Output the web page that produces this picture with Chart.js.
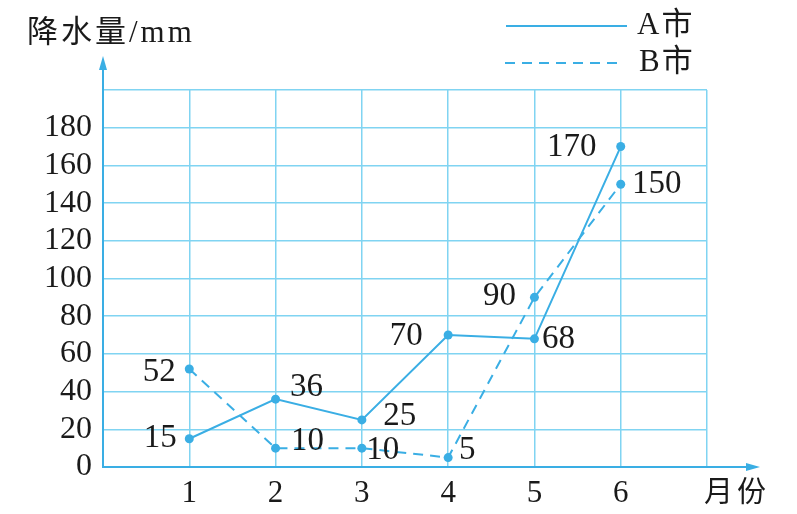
<!DOCTYPE html>
<html>
<head>
<meta charset="utf-8">
<script src="https://cdn.jsdelivr.net/npm/chart.js@4"></script>
<style>
  html, body { margin: 0; padding: 0; background: #fff; }
  canvas { display: block; }
</style>
</head>
<body>
<canvas id="rainChart" width="797" height="514"></canvas>
<script>
// months on the x axis
const months = [1, 2, 3, 4, 5, 6];
// rainfall (mm)
const cityA = [15, 36, 25, 70, 68, 170];
const cityB = [52, 10, 10, 5, 90, 150];
const seriesNames = ['A市', 'B市'];
const yTicks = [0, 20, 40, 60, 80, 100, 120, 140, 160, 180];

const lineColor = '#3aaee4';
const gridColor = '#80d4f2';
const textFont = '"Liberation Serif", "Noto Sans CJK SC", serif';

// where each value label sits relative to its point
const labelOffsetsA = [[-29, 0], [31, -12], [38, -4], [-42, 1], [24, 1], [-49, 1]];
const labelOffsetsB = [[-30, 3], [32, -7], [21, 2], [19, -7], [-35, -1], [36, 0]];

const ctx = document.getElementById('rainChart').getContext('2d');

// axis arrows, title, legend, value labels
const decorPlugin = {
    id: 'decor',
    afterDatasetsDraw(chart) {
        const c = chart.ctx;
        const area = chart.chartArea;
        c.save();
        c.strokeStyle = lineColor;
        c.fillStyle = lineColor;
        c.lineWidth = 2;
        // y axis arrow
        c.beginPath();
        c.moveTo(area.left, area.top);
        c.lineTo(area.left, 62);
        c.stroke();
        c.beginPath();
        c.moveTo(area.left, 56);
        c.lineTo(area.left - 4, 70);
        c.lineTo(area.left + 4, 70);
        c.closePath();
        c.fill();
        // x axis arrow
        c.beginPath();
        c.moveTo(area.right, area.bottom);
        c.lineTo(752, area.bottom);
        c.stroke();
        c.beginPath();
        c.moveTo(760, area.bottom);
        c.lineTo(746, area.bottom - 4);
        c.lineTo(746, area.bottom + 4);
        c.closePath();
        c.fill();

        // legend
        c.lineWidth = 2;
        c.beginPath();
        c.moveTo(506, 26);
        c.lineTo(627, 26);
        c.stroke();
        c.setLineDash([10, 7]);
        c.beginPath();
        c.moveTo(505, 63);
        c.lineTo(622, 63);
        c.stroke();
        c.setLineDash([]);

        c.fillStyle = '#1a1a1a';
        c.textBaseline = 'middle';
        c.textAlign = 'left';
        c.font = '31px ' + textFont;
        c.letterSpacing = '2px';
        c.fillText(seriesNames[0], 637, 26);
        c.fillText(seriesNames[1], 639, 63);

        // axis titles
        c.font = '31px ' + textFont;
        c.letterSpacing = '3px';
        c.fillText('降水量/mm', 27, 34);
        c.letterSpacing = '4px';
        c.font = '29px ' + textFont;
        c.fillText('月份', 704, 494);
        c.letterSpacing = '0px';

        // value labels
        c.font = '33px ' + textFont;
        c.textAlign = 'center';
        const offsets = [labelOffsetsA, labelOffsetsB];
        chart.data.datasets.forEach((ds, i) => {
            const meta = chart.getDatasetMeta(i);
            meta.data.forEach((pt, j) => {
                const off = offsets[i][j];
                c.fillText(String(ds.data[j].y), pt.x + off[0], pt.y + off[1]);
            });
        });
        c.restore();
    }
};

new Chart(ctx, {
    type: 'line',
    data: {
        datasets: [
            {
                label: seriesNames[0],
                data: months.map((m, i) => ({ x: m, y: cityA[i] })),
                borderColor: lineColor,
                backgroundColor: lineColor,
                borderWidth: 2,
                pointRadius: 4.5,
                pointBorderWidth: 0,
                tension: 0
            },
            {
                label: seriesNames[1],
                data: months.map((m, i) => ({ x: m, y: cityB[i] })),
                borderColor: lineColor,
                backgroundColor: lineColor,
                borderWidth: 2,
                borderDash: [10, 7],
                pointRadius: 4.5,
                pointBorderWidth: 0,
                tension: 0
            }
        ]
    },
    options: {
        responsive: false,
        animation: false,
        layout: {
            padding: { left: 0, right: 90, top: 90, bottom: 0 }
        },
        scales: {
            x: {
                type: 'linear',
                min: 0,
                max: 7,
                afterFit: (scale) => { scale.height = 47; },
                ticks: {
                    stepSize: 1,
                    autoSkip: false,
                    maxRotation: 0,
                    padding: 8,
                    color: '#1a1a1a',
                    font: { family: textFont, size: 31 },
                    callback: (v) => months.includes(v) ? String(v) : ''
                },
                grid: { color: gridColor, lineWidth: 1.5, drawTicks: false },
                border: { color: lineColor, width: 2 }
            },
            y: {
                min: 0,
                max: 200,
                afterFit: (scale) => { scale.width = 103; },
                ticks: {
                    stepSize: 20,
                    autoSkip: false,
                    padding: 11,
                    color: '#1a1a1a',
                    font: { family: textFont, size: 32 },
                    callback: (v) => yTicks.includes(v) ? String(v) : ''
                },
                grid: { color: gridColor, lineWidth: 1.5, drawTicks: false },
                border: { color: lineColor, width: 2 }
            }
        },
        plugins: {
            legend: { display: false },
            tooltip: { enabled: false }
        }
    },
    plugins: [decorPlugin]
});
</script>
</body>
</html>
